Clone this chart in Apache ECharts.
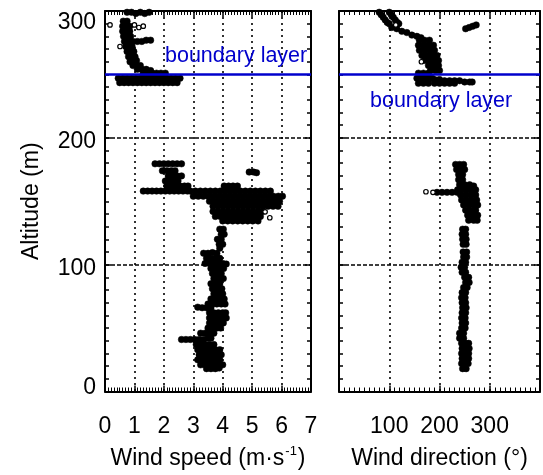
<!DOCTYPE html>
<html>
<head>
<meta charset="utf-8">
<script src="https://cdn.jsdelivr.net/npm/echarts@6/dist/echarts.min.js"></script>
<style>
html,body{margin:0;padding:0;background:#fff;}
#chart{width:543px;height:475px;}
</style>
</head>
<body>
<div id="chart"></div>
<script>
// ---------- data ----------
const speedTicks = [0, 1, 2, 3, 4, 5, 6, 7];
const dirTickLabels = [100, 200, 300];
const altitudeTicks = [0, 100, 200, 300];
const boundaryAlt = 250;

// wind speed (m/s), altitude (m)
const speedTop = [
  [0.75,299],[0.9,299],[1.05,298],[1.2,299],[1.35,298],[1.5,299],
  [0.62,292],[0.75,292],
  [0.6,288],[0.72,288],[0.84,288],
  [0.6,284],[0.72,284],[0.84,284],
  [0.63,280],[0.75,280],[0.87,280],
  [0.66,276],[0.8,276],[0.95,276],[1.1,276],[1.25,276],[1.4,277],[1.55,277],
  [0.7,272],[0.82,272],[0.92,272],
  [0.75,268],[0.87,268],[0.98,268],
  [0.8,264],[0.92,264],[1.02,264],
  [0.85,260],[0.97,260],[1.07,261],
  [0.95,257],[1.08,257],[1.2,257],
  [1.1,254],[1.25,254],[1.4,254],[1.55,253],
  [1.3,251],[1.45,251],[1.6,251],[1.75,251],[1.9,251],[2.05,251],
  [0.45,247],[0.6,247],[0.75,247],[0.9,247],[1.05,247],[1.2,247],[1.35,247],[1.5,247],
  [1.65,247],[1.8,247],[1.95,247],[2.1,247],[2.25,247],[2.4,247],[2.55,247],
  [0.5,243.5],[0.65,243.5],[0.8,243.5],[0.95,243.5],[1.1,243.5],[1.25,243.5],[1.4,243.5],
  [1.55,243.5],[1.7,243.5],[1.85,243.5],[2.0,243.5],[2.15,243.5],[2.3,243.5],[2.45,243.5]
];
const speedMid = [
  [1.7,179.5],[1.85,179.5],[2.0,179.5],[2.15,179.5],[2.3,179.5],[2.45,179.5],[2.6,179.5],
  [1.95,174],[2.1,174],[2.25,174],[2.38,174],
  [2.15,170],[2.3,170],[2.45,170],[2.6,170],
  [2.05,166],[2.2,166],[2.35,166],[2.48,166],
  [2.1,162],[2.25,162],[2.4,162],[2.55,162],[2.7,162],[2.82,162],
  [1.3,158],[1.45,158],[1.6,158],[1.75,158],[1.9,158],[2.05,158],[2.2,158],[2.35,158],[2.5,158],[2.65,158],[2.8,158],
  [4.9,173],[5.05,173],[5.15,172.5],
  [4.05,162],[4.2,162],[4.35,162],[4.5,162],
  [2.9,158],[3.07,158],[3.24,158],[3.41,158],[3.58,158],[3.75,158],[3.92,158],[4.09,158],[4.26,158],
  [4.43,158],[4.6,158],[4.77,158],[4.94,158],[5.11,158],[5.28,158],[5.45,158],[5.62,158],
  [3.0,154],[3.17,154],[3.34,154],[3.51,154],[3.68,154],[3.85,154],[4.02,154],[4.19,154],[4.36,154],[4.53,154],
  [4.7,154],[4.87,154],[5.04,154],[5.21,154],[5.38,154],[5.55,154],[5.72,154],[5.89,154],[6.03,154],
  [3.55,150],[3.72,150],[3.89,150],[4.06,150],[4.23,150],[4.4,150],[4.57,150],[4.74,150],[4.91,150],
  [5.08,150],[5.25,150],[5.42,150],[5.59,150],[5.76,150],[5.93,150],
  [3.67,146],[3.84,146],[4.01,146],[4.18,146],[4.35,146],[4.52,146],[4.69,146],[4.86,146],[5.03,146],
  [5.2,146],[5.37,146],[5.54,146],[5.71,146],[5.88,146],
  [3.67,142],[3.84,142],[4.01,142],[4.18,142],[4.35,142],[4.52,142],[4.69,142],[4.86,142],[5.03,142],
  [5.2,142],[5.35,142],
  [3.75,138],[3.92,138],[4.09,138],[4.26,138],[4.43,138],[4.6,138],[4.77,138],[4.94,138],[5.11,138],[5.28,138],
  [4.0,134.5],[4.17,134.5],[4.34,134.5],[4.51,134.5],[4.68,134.5],[4.85,134.5],[5.02,134.5],[5.2,134.5]
];
const speedLow = [
  [3.9,128],[4.02,128],[3.95,124],[4.05,124],[3.82,120],[3.95,120],[3.88,116],[4.0,116],[3.9,113],
  [3.35,109],[3.5,109],[3.65,109.5],[3.8,109],
  [3.45,105],[3.6,105],[3.75,105],[3.9,105],
  [3.4,101],[3.55,101],[3.7,101],[3.85,101],[4.0,101],[4.12,100.5],
  [3.6,97],[3.75,97],[3.9,97],[4.03,97],
  [3.65,93],[3.8,93],[3.95,93],
  [3.7,89],[3.85,89],[4.02,89],
  [3.6,85],[3.75,85],[3.9,85],
  [3.65,81],[3.8,81],[3.97,81],
  [3.7,77],[3.85,77],[4.0,77],
  [3.6,73],[3.75,73],[3.9,73],[4.05,73],
  [3.5,69],[3.65,69],[3.8,69],[3.95,69],[4.08,69],
  [3.15,66.5],[3.3,66],[3.45,66],[3.6,66],
  [3.55,62],[3.7,62],[3.85,62],[4.0,62],[4.1,62],
  [3.55,58],[3.7,58],[3.85,58],[4.0,58],[4.12,58],
  [3.55,54],[3.7,54],[3.85,54],[4.02,54],
  [3.5,50],[3.65,50],[3.8,50],[3.93,50],
  [3.25,46],[3.4,46],[3.55,46],[3.7,46],
  [2.6,41],[2.75,41],[2.9,41],[3.05,41],[3.2,41],[3.35,41],[3.5,42],[3.6,42],
  [3.1,37],[3.25,37],[3.4,37],[3.55,37],[3.7,37],
  [3.15,33],[3.3,33],[3.45,33],[3.6,33],[3.75,33],[3.9,33],
  [3.2,29],[3.35,29],[3.5,29],[3.65,29],[3.8,29],[3.95,29],
  [3.15,25],[3.3,25],[3.45,25],[3.6,25],[3.75,25],[3.9,25],
  [3.25,21],[3.4,21],[3.55,21],[3.7,21],[3.85,21],[4.0,21],
  [3.45,18],[3.6,18],[3.75,18],[3.88,18.5]
];
const speedHollow = [[0.17,289],[1.0,289],[1.15,287],[1.3,288],[0.51,272],[5.44,141.7],[5.6,137]];

// wind direction (deg), altitude (m)
const dirTop = [
  [80,299],[84,297],[88,295],[92,293],[96,291],[100,290],
  [100,299],[104,297],[108,295],[112,293],[116,291],[119,290],
  [105,287],[115,286],[125,284],[135,283],[145,281],[155,280],[163,279],
  [160,277],[170,277],[180,277],
  [158,273],[168,273],[178,273],[188,273],
  [160,269],[170,269],[180,269],[190,269],
  [165,265],[175,265],[185,265],[195,265],
  [170,261],[180,261],[190,261],[198,261],
  [178,257],[188,257],[198,257],
  [182,253],[192,253],[200,253],
  [158,251],[168,251],[178,251],
  [155,247],[165,247],[175,247],[185,247],
  [158,243],[168,243],[178,243],
  [190,246],[200,246],[210,245],[220,245],[230,245],[240,245],[250,244],[260,244],[265,244],
  [190,243],[200,243],[210,243],[220,243],[230,243],
  [252,286],[259,287],[266,288],[273,289]
];
const dirMid = [
  [232,179],[240,179],[248,179],
  [234,175],[242,175],[250,175],
  [238,171],[246,171],
  [238,167],[246,167],
  [240,163],[250,163],[260,163],[268,162],
  [236,159],[246,159],[256,159],[266,159],[272,159],
  [195,157],[205,157],[215,157],[225,157],[235,157],
  [242,155],[252,155],[262,155],[272,155],
  [244,151],[254,151],[264,151],[274,151],
  [248,147],[258,147],[268,147],[276,147],
  [252,143],[262,143],[272,143],
  [256,139],[266,139],[276,139],
  [258,135],[268,135],[275,135]
];
const dirLow = [
  [246,128],[252,128],[245,124],[252,124],[246,120],[253,120],[247,116],[253,116],
  [247,110],[254,110],[248,106],[254,106],[245,102],[252,102],[243,98],[250,98],
  [245,94],[252,94],[250,90],[258,90],[252,86],[259,86],[248,82],[255,82],
  [245,78],[252,78],[244,74],[251,74],[245,70],[252,70],[246,66],[253,66],
  [245,62],[252,62],[244,58],[251,58],[245,54],[252,54],[244,50],[251,50],
  [240,46],[248,46],[240,42],[248,42],[244,38],[252,38],[258,38],
  [245,34],[254,34],[259,34],[244,30],[252,30],[258,30],
  [245,26],[253,26],[258,26],[244,22],[252,22],[257,22],[246,18],[253,18]
];
const dirHollow = [[113,289],[164,260],[173,157.5],[187,157]];

// ---------- chart ----------
const FONT = '"Liberation Sans", Arial, Helvetica, sans-serif';
const FS = 23;
const BLUE = '#0000cc';

const chart = echarts.init(document.getElementById('chart'), null, {renderer: 'canvas'});

function xAxisDef(grid, pos, min, max, interval, showLabels, labelFn, name) {
  return {
    gridIndex: grid, type: 'value', position: pos, min: min, max: max, interval: interval,
    axisLine: {show: true, onZero: false, lineStyle: {color: '#000', width: 2}},
    axisTick: {show: true, inside: true, length: 6, lineStyle: {color: '#000', width: 1.5}},
    minorTick: {show: true, splitNumber: 10, length: 4, lineStyle: {color: '#000', width: 1}},
    splitLine: {show: pos === 'bottom', lineStyle: {color: '#000', width: 1.6, type: [2, 4]}},
    axisLabel: {show: showLabels, formatter: labelFn, color: '#000', fontSize: FS, fontFamily: FONT, margin: 24},
    name: name || '', nameLocation: 'middle', nameGap: 53,
    nameTextStyle: {
      color: '#000', fontSize: FS, fontFamily: FONT,
      rich: {
        n: {fontSize: FS, fontFamily: FONT, color: '#000', lineHeight: 28},
        s: {fontSize: 13, fontFamily: FONT, color: '#000', verticalAlign: 'top', lineHeight: 28, padding: [0, 1, 0, 1]}
      }
    }
  };
}
function yAxisDef(grid, pos, showLabels, name) {
  return {
    gridIndex: grid, type: 'value', position: pos, min: 0, max: 300, interval: 100,
    axisLine: {show: true, onZero: false, lineStyle: {color: '#000', width: 2}},
    axisTick: {show: true, inside: true, length: 6, lineStyle: {color: '#000', width: 1.5}},
    minorTick: {show: true, splitNumber: 10, length: 4, lineStyle: {color: '#000', width: 1.5}},
    splitLine: {show: pos === 'left', lineStyle: {color: '#000', width: 1.6, type: [4, 2]}},
    axisLabel: {
      show: showLabels, color: '#000', fontSize: FS, fontFamily: FONT, margin: 9,
      formatter: function (v) {
        if (altitudeTicks.indexOf(v) < 0) return '';
        if (v === 0) return '{b|' + v + '}';
        if (v === 300) return '{t|' + v + '}';
        return '{n|' + v + '}';
      },
      rich: {
        b: {fontSize: FS, fontFamily: FONT, color: '#000', padding: [0, 0, 8, 0]},
        t: {fontSize: FS, fontFamily: FONT, color: '#000', padding: [24, 0, 0, 0]},
        n: {fontSize: FS, fontFamily: FONT, color: '#000', padding: [8, 0, 0, 0]}
      }
    },
    name: name || '', nameLocation: 'middle', nameGap: 62,
    nameTextStyle: {color: '#000', fontSize: FS, fontFamily: FONT}
  };
}

const speedLabel = v => speedTicks.indexOf(v) >= 0 ? String(v) : '';
const dirLabel = v => dirTickLabels.indexOf(v) >= 0 ? String(v) : '';

function dots(data, xi, yi) {
  return {
    type: 'scatter', xAxisIndex: xi, yAxisIndex: yi, data: data, symbol: 'circle', symbolSize: 6.5,
    itemStyle: {color: '#000', borderColor: '#000', borderWidth: 0.5, opacity: 1}, silent: true, z: 3
  };
}
function hollow(data, xi, yi) {
  return {
    type: 'scatter', xAxisIndex: xi, yAxisIndex: yi, data: data, symbol: 'circle', symbolSize: 4.5,
    itemStyle: {color: '#fff', borderColor: '#000', borderWidth: 1.2, opacity: 1}, silent: true, z: 4
  };
}
function boundary(xi, yi) {
  return {
    type: 'scatter', xAxisIndex: xi, yAxisIndex: yi, data: [], silent: true, z: 5,
    markLine: {
      silent: true, symbol: ['none', 'none'], animation: false,
      lineStyle: {color: BLUE, width: 2.5, type: 'solid'},
      label: {show: false},
      data: [{yAxis: boundaryAlt}]
    }
  };
}

const option = {
  animation: false,
  backgroundColor: '#fff',
  grid: [
    {left: 105, top: 11, width: 206, height: 381, containLabel: false},
    {left: 339, top: 11, width: 206, height: 381, containLabel: false}
  ],
  xAxis: [
    xAxisDef(0, 'bottom', 0, 7, 1, true, speedLabel, '{n|Wind speed (m·s}{s|-1}{n|)}'),
    xAxisDef(0, 'top', 0, 7, 1, false, speedLabel, ''),
    xAxisDef(1, 'bottom', 0, 400, 100, true, dirLabel, '{n|Wind direction (°)}'),
    xAxisDef(1, 'top', 0, 400, 100, false, dirLabel, '')
  ],
  yAxis: [
    yAxisDef(0, 'left', true, 'Altitude (m)'),
    yAxisDef(0, 'right', false, ''),
    yAxisDef(1, 'left', false, ''),
    yAxisDef(1, 'right', false, '')
  ],
  series: [
    dots(speedTop, 0, 0), dots(speedMid, 0, 0), dots(speedLow, 0, 0), hollow(speedHollow, 0, 0),
    dots(dirTop, 2, 2), dots(dirMid, 2, 2), dots(dirLow, 2, 2), hollow(dirHollow, 2, 2),
    boundary(0, 0), boundary(2, 2)
  ],
  graphic: [
    {type: 'text', left: 165, top: 45, z: 10, style: {text: 'boundary layer', fill: BLUE, font: '21.5px ' + FONT}},
    {type: 'text', left: 370, top: 90, z: 10, style: {text: 'boundary layer', fill: BLUE, font: '21.5px ' + FONT}}
  ]
};
chart.setOption(option);
</script>
</body>
</html>
